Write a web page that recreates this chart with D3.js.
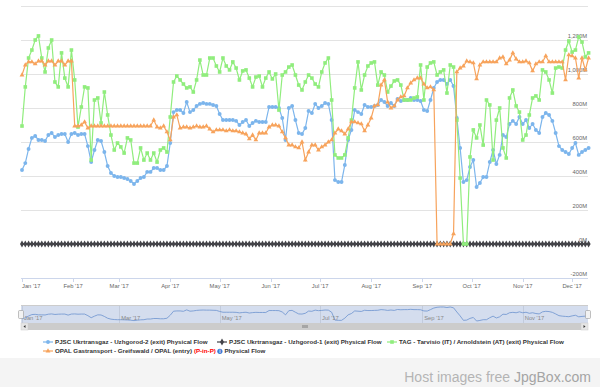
<!DOCTYPE html>
<html>
<head>
<meta charset="utf-8">
<script src="https://cdn.jsdelivr.net/npm/d3@7"></script>
<style>
    body { margin: 0; background: #fff; }
    svg { display: block; font-family: "Liberation Sans", Arial, sans-serif; }
</style>
</head>
<body>
<svg id="chart" width="600" height="387"></svg>
<script>
// daily flows read every 2nd day, starting 1 Jan 2017 (million units)
var startDate = new Date(2017, 0, 1);
var stepDays = 2;

var uzhgorod2 = [
    435, 476, 559, 624, 635, 612, 612, 606, 641, 653,
    629, 641, 647, 647, 600, 647, 653, 641, 647, 647,
    576, 482, 553, 612, 606, 541, 459, 418, 400, 394,
    394, 388, 382, 371, 353, 371, 388, 394, 424, 424,
    447, 447, 435, 435, 459, 594, 776, 788, 788, 771,
    835, 776, 788, 812, 824, 829, 824, 824, 818, 812,
    765, 729, 729, 729, 729, 724, 700, 718, 729, 694,
    712, 724, 718, 718, 718, 806, 806, 806, 800, 741,
    612, 800, 812, 729, 653, 647, 682, 782, 771, 824,
    800, 812, 829, 824, 729, 376, 365, 365, 465, 612,
    671, 788, 776, 765, 818, 806, 806, 812, 818, 847,
    835, 812, 829, 812, 853, 841, 847, 847, 859, 847,
    847, 841, 788, 782, 847, 918, 953, 965, 965, 941,
    965, 929, 741, 565, 365, 376, 453, 494, 335, 359,
    394, 394, 482, 553, 471, 524, 641, 629, 706, 724,
    706, 747, 706, 729, 682, 706, 671, 653, 747, 771,
    759, 724, 653, 576, 553, 541, 529, 565, 594, 524,
    541, 553, 565
];

var uzhgorod1 = [
    0, 0, 0, 0, 0, 0, 0, 0, 0, 0,
    0, 0, 0, 0, 0, 0, 0, 0, 0, 0,
    0, 0, 0, 0, 0, 0, 0, 0, 0, 0,
    0, 0, 0, 0, 0, 0, 0, 0, 0, 0,
    0, 0, 0, 0, 0, 0, 0, 0, 0, 0,
    0, 0, 0, 0, 0, 0, 0, 0, 0, 0,
    0, 0, 0, 0, 0, 0, 0, 0, 0, 0,
    0, 0, 0, 0, 0, 0, 0, 0, 0, 0,
    0, 0, 0, 0, 0, 0, 0, 0, 0, 0,
    0, 0, 0, 0, 0, 0, 0, 0, 0, 0,
    0, 0, 0, 0, 0, 0, 0, 0, 0, 0,
    0, 0, 0, 0, 0, 0, 0, 0, 0, 0,
    0, 0, 0, 0, 0, 0, 0, 0, 0, 0,
    0, 0, 0, 0, 0, 0, 0, 0, 0, 0,
    0, 0, 0, 0, 0, 0, 0, 0, 0, 0,
    0, 0, 0, 0, 0, 0, 0, 0, 0, 0,
    0, 0, 0, 0, 0, 0, 0, 0, 0, 0,
    0, 0, 0
];

var tarvisio = [
    694, 924, 1094, 1141, 1200, 1224, 1094, 1012, 1153, 1200,
    953, 924, 1124, 976, 924, 1141, 965, 688, 806, 924,
    918, 494, 847, 859, 712, 894, 759, 641, 553, 594,
    571, 535, 624, 612, 476, 476, 565, 494, 535, 494,
    535, 482, 553, 565, 541, 747, 953, 988, 965, 941,
    918, 924, 894, 965, 1082, 994, 994, 1094, 1094, 1047,
    1012, 1094, 1047, 1024, 1071, 1035, 965, 1018, 1024, 976,
    924, 982, 988, 924, 976, 1012, 971, 1000, 788, 994,
    1012, 1041, 1053, 994, 935, 906, 953, 994, 976, 941,
    924, 1012, 1065, 1094, 847, 524, 506, 506, 524, 624,
    729, 918, 1071, 906, 994, 1047, 1065, 1071, 935, 1012,
    994, 894, 929, 959, 965, 935, 847, 847, 847, 859,
    865, 1053, 847, 1041, 1065, 1071, 994, 1012, 1024, 888,
    1053, 1041, 729, 388, 0, 0, 512, 671, 624, 700,
    582, 847, 818, 494, 729, 800, 565, 506, 859, 906,
    812, 776, 612, 641, 759, 859, 871, 847, 1024, 1012,
    965, 888, 1035, 1041, 1035, 1141, 1194, 1129, 1141, 1218,
    1188, 1100, 1124
];

var opal = [
    994, 1053, 1071, 1071, 1059, 1076, 1076, 1053, 1076, 1076,
    1053, 1076, 1076, 1053, 1076, 1076, 694, 694, 700, 718,
    682, 694, 694, 694, 694, 694, 694, 694, 694, 694,
    694, 694, 694, 694, 694, 694, 694, 694, 694, 694,
    729, 688, 682, 694, 659, 612, 747, 759, 682, 688,
    688, 682, 688, 694, 688, 688, 694, 676, 659, 671,
    671, 671, 665, 671, 665, 665, 659, 653, 647, 618,
    641, 612, 653, 653, 653, 688, 700, 700, 694, 659,
    624, 582, 582, 571, 565, 600, 494, 541, 582, 582,
    553, 571, 582, 600, 612, 653, 676, 665, 647, 676,
    718, 718, 712, 706, 665, 700, 741, 812, 818, 935,
    965, 835, 800, 812, 847, 865, 871, 918, 947, 965,
    976, 976, 941, 918, 924, 906, 0, 0, 0, 0,
    0, 60, 1012, 1035, 1047, 1076, 1071, 1065, 971, 1053,
    1071, 1071, 1071, 1071, 1071, 1094, 1100, 1059, 1082, 1124,
    1088, 1071, 1071, 1076, 1065, 1018, 1059, 1071, 1071, 1106,
    1071, 1071, 1071, 1071, 1071, 965, 1112, 1106, 1094, 976,
    1094, 1024, 1094
];

var yTicks = [-200, 0, 200, 400, 600, 800, 1000, 1200, 1400];
var yLabels = ["-200M", "0M", "200M", "400M", "600M", "800M", "1,000M", "1,200M", ""];

var svg = d3.select("#chart");

var plotLeft = 21, plotRight = 588, plotTop = 6, plotBottom = 278;

var x = d3.scaleTime()
    .domain([new Date(2017, 0, 1), new Date(2017, 11, 11)])
    .range([22, 588.6]);
var y = d3.scaleLinear().domain([-200, 1400]).range([plotBottom, plotTop]);

// grid
svg.append("g").selectAll("line")
    .data(yTicks)
    .enter().append("line")
    .attr("x1", plotLeft).attr("x2", plotRight)
    .attr("y1", function (d) { return Math.round(y(d)) + 0.5; })
    .attr("y2", function (d) { return Math.round(y(d)) + 0.5; })
    .attr("stroke", "#e3e3e3").attr("stroke-width", 1);

svg.append("g").selectAll("text")
    .data(yTicks)
    .enter().append("text")
    .attr("x", plotRight - 1)
    .attr("y", function (d) { return y(d) - 2.5; })
    .attr("text-anchor", "end")
    .style("font-size", "5.8px")
    .attr("fill", "#666")
    .text(function (d, i) { return yLabels[i]; });

// x axis
var months = d3.timeMonth.range(new Date(2017, 0, 1), new Date(2017, 11, 11));
var fmt = d3.timeFormat("%b '%y");
svg.append("line")
    .attr("x1", plotLeft).attr("x2", plotRight)
    .attr("y1", plotBottom + 0.5).attr("y2", plotBottom + 0.5)
    .attr("stroke", "#ccd6eb");
svg.append("g").selectAll("line")
    .data(months)
    .enter().append("line")
    .attr("x1", function (d) { return Math.round(x(d)) + 0.5; })
    .attr("x2", function (d) { return Math.round(x(d)) + 0.5; })
    .attr("y1", plotBottom).attr("y2", plotBottom + 4)
    .attr("stroke", "#ccd6eb");
svg.append("g").selectAll("text")
    .data(months)
    .enter().append("text")
    .attr("x", function (d) { return x(d); })
    .attr("y", plotBottom + 10)
    .attr("text-anchor", function (d, i) { return i == 0 ? "start" : "middle"; })
    .style("font-size", "5.8px")
    .attr("fill", "#666")
    .text(fmt);

// series
function toPoints(values) {
    return values.map(function (v, i) {
        return { date: d3.timeDay.offset(startDate, i * stepDays), value: v };
    });
}

var series = [
    { name: "blue", values: uzhgorod2, color: "#7cb5ec", symbol: d3.symbolCircle, size: 12 },
    { name: "black", values: uzhgorod1, color: "#434348", symbol: d3.symbolDiamond, size: 14 },
    { name: "green", values: tarvisio, color: "#90ed7d", symbol: d3.symbolSquare, size: 13 },
    { name: "orange", values: opal, color: "#f7a35c", symbol: d3.symbolTriangle, size: 10 }
];

var line = d3.line()
    .x(function (d) { return x(d.date); })
    .y(function (d) { return y(d.value); });

series.forEach(function (s) {
    var pts = toPoints(s.values);
    var g = svg.append("g").attr("class", "series-" + s.name);
    g.append("path")
        .datum(pts)
        .attr("d", line)
        .attr("fill", "none")
        .attr("stroke", s.color)
        .attr("stroke-width", s.name == "black" ? 2 : 1.2);
    g.selectAll(".marker")
        .data(pts)
        .enter().append("path")
        .attr("class", "marker")
        .attr("d", d3.symbol().type(s.symbol).size(s.size))
        .attr("transform", function (d) { return "translate(" + x(d.date) + "," + y(d.value) + ")"; })
        .attr("fill", s.color);
});

// navigator
var navTop = 305, navBottom = 323;
var nav = svg.append("g").attr("class", "navigator");
var navTicks = d3.timeMonth.every(2).range(new Date(2017, 0, 1), new Date(2017, 11, 11));
nav.selectAll(".navgrid")
    .data(navTicks)
    .enter().append("line")
    .attr("x1", function (d) { return Math.round(x(d)) + 0.5; })
    .attr("x2", function (d) { return Math.round(x(d)) + 0.5; })
    .attr("y1", navTop).attr("y2", navBottom)
    .attr("stroke", "#e6e6e6");
var navY = d3.scaleLinear()
    .domain(d3.extent(uzhgorod2))
    .range([navBottom - 2, navTop + 2]);
var navLine = d3.line()
    .x(function (d) { return x(d.date); })
    .y(function (d) { return navY(d.value); });
nav.append("path")
    .datum(toPoints(uzhgorod2))
    .attr("d", navLine)
    .attr("fill", "none")
    .attr("stroke", "#6f98d4")
    .attr("stroke-width", 0.8);
nav.append("rect")
    .attr("x", plotLeft).attr("y", navTop)
    .attr("width", plotRight - plotLeft).attr("height", navBottom - navTop)
    .attr("fill", "rgba(102,133,194,0.28)");
nav.selectAll(".navlabel")
    .data(navTicks)
    .enter().append("text")
    .attr("x", function (d) { return x(d) + 2; })
    .attr("y", navBottom - 3)
    .style("font-size", "5.8px")
    .attr("fill", "#888")
    .text(fmt);
nav.append("line")
    .attr("x1", plotLeft).attr("x2", plotRight)
    .attr("y1", navTop + 0.5).attr("y2", navTop + 0.5)
    .attr("stroke", "#cccccc");
[plotLeft, plotRight].forEach(function (hx) {
    nav.append("rect")
        .attr("x", hx - 2.5).attr("y", 310.5)
        .attr("width", 5).attr("height", 8)
        .attr("rx", 1)
        .attr("fill", "#f2f2f2").attr("stroke", "#999").attr("stroke-width", 0.6);
});

// scrollbar
var sb = svg.append("g").attr("class", "scrollbar");
sb.append("rect").attr("x", plotLeft).attr("y", 323).attr("width", plotRight - plotLeft).attr("height", 7)
    .attr("fill", "#f2f2f2");
sb.append("rect").attr("x", plotLeft + 7).attr("y", 323).attr("width", plotRight - plotLeft - 14).attr("height", 7)
    .attr("fill", "#cccccc");
sb.append("rect").attr("x", plotLeft).attr("y", 323).attr("width", 7).attr("height", 7).attr("fill", "#e6e6e6").attr("stroke", "#ccc").attr("stroke-width", 0.5);
sb.append("rect").attr("x", plotRight - 7).attr("y", 323).attr("width", 7).attr("height", 7).attr("fill", "#e6e6e6").attr("stroke", "#ccc").attr("stroke-width", 0.5);
sb.append("path").attr("d", "M25.5,325L23.5,326.5L25.5,328Z").attr("fill", "#333");
sb.append("path").attr("d", "M583.5,325L585.5,326.5L583.5,328Z").attr("fill", "#333");
[-2, 0, 2].forEach(function (o) {
    sb.append("line").attr("x1", 305 + o).attr("x2", 305 + o).attr("y1", 325).attr("y2", 328)
        .attr("stroke", "#333").attr("stroke-width", 0.5);
});

// legend
var legendItems = [
    { label: "PJSC Ukrtransgaz - Uzhgorod-2 (exit) Physical Flow", s: series[0], x: 48, y: 342 },
    { label: "PJSC Ukrtransgaz - Uzhgorod-1 (exit) Physical Flow", s: series[1], x: 222, y: 342 },
    { label: "TAG - Tarvisio (IT) / Arnoldstein (AT) (exit) Physical Flow", s: series[2], x: 392, y: 342 },
    { label: "OPAL Gastransport - Greifswald / OPAL (entry)", s: series[3], x: 48, y: 351 }
];
var legend = svg.append("g").attr("class", "legend");
legendItems.forEach(function (it, i) {
    legend.append("line")
        .attr("x1", it.x - 5).attr("x2", it.x + 5)
        .attr("y1", it.y).attr("y2", it.y)
        .attr("stroke", it.s.color).attr("stroke-width", 1.2);
    legend.append("path")
        .attr("d", d3.symbol().type(it.s.symbol).size(it.s.size))
        .attr("transform", "translate(" + it.x + "," + it.y + ")")
        .attr("fill", it.s.color);
    var t = legend.append("text")
        .attr("x", it.x + 7).attr("y", it.y + 2.2)
        .style("font-size", "6.2px").style("font-weight", "bold")
        .attr("fill", "#333")
        .text(it.label);
    if (i == 3) {
        var w = t.node().getComputedTextLength();
        var redX = it.x + 7 + w + 1.8;
        var red = legend.append("text")
            .attr("x", redX).attr("y", it.y + 2.2)
            .style("font-size", "6.2px").style("font-weight", "bold")
            .attr("fill", "#ff0000")
            .text("(P-in-P)");
        var rx = redX + red.node().getComputedTextLength();
        legend.append("circle").attr("cx", rx + 4).attr("cy", it.y + 0.3).attr("r", 2.6).attr("fill", "#3a7bd5");
        legend.append("text").attr("x", rx + 4).attr("y", it.y + 2.2).attr("text-anchor", "middle")
            .style("font-size", "4.5px").style("font-weight", "bold").attr("fill", "#fff").text("i");
        legend.append("text")
            .attr("x", rx + 8.5).attr("y", it.y + 2.2)
            .style("font-size", "6.2px").style("font-weight", "bold")
            .attr("fill", "#333")
            .text("Physical Flow");
    }
});

// footer band
svg.append("rect").attr("x", 0).attr("y", 358).attr("width", 600).attr("height", 29).attr("fill", "#f4f4f4");
var foot = svg.append("text")
    .attr("x", 591).attr("y", 382)
    .attr("text-anchor", "end")
    .style("font-size", "14px")
    .attr("fill", "#b4b4b4");
foot.append("tspan").text("Host images free ");
foot.append("tspan").attr("fill", "#a4a4a4").text("JpgBox.com");
</script>
</body>
</html>
